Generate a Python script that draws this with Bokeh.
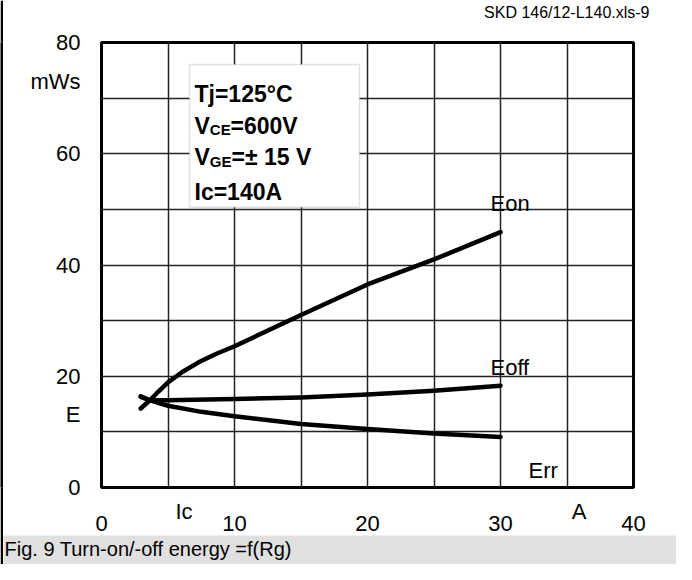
from bokeh.plotting import figure
from bokeh.models import Range1d, FixedTicker, Label, BoxAnnotation, LinearAxis, Title
from bokeh.layouts import row
from bokeh.embed import file_html
from bokeh.resources import INLINE

# ---------------- data ----------------
eon_rg = [2.95, 3.6, 4.3, 5.0, 6.1, 7.3, 8.6, 10.0, 15.0, 20.0, 25.0, 30.0]
eon_e = [14.2, 15.6, 17.3, 18.9, 20.8, 22.5, 24.0, 25.4, 31.0, 36.5, 41.0, 45.9]
eoff_rg = [2.95, 3.6, 5.0, 10.0, 15.0, 20.0, 25.0, 30.0]
eoff_e = [16.3, 15.7, 15.7, 15.9, 16.2, 16.7, 17.4, 18.3]
err_rg = [2.95, 3.6, 5.0, 7.5, 10.0, 15.0, 20.0, 25.0, 30.0]
err_e = [16.4, 15.7, 14.7, 13.6, 12.8, 11.4, 10.5, 9.7, 9.1]

x_ticks = [0, 10, 20, 30, 40]
x_tick_labels = ["0", "10", "20", "30", "40"]
x_minor = [5, 15, 25, 35]
y_ticks = [0, 20, 40, 60, 80]
y_tick_labels = ["0", "20", "40", "60", "80"]
y_minor = [10, 30, 50, 70]

curve_names = ["Eon", "Eoff", "Err"]
cond_lines = ["Tj=125°C", "=600V", "=± 15 V", "Ic=140A"]
sub_labels = ["CE", "GE"]
file_tag = "SKD 146/12-L140.xls-9"
y_name_labels = {72.9: "mWs", 13.1: "E"}      # names shown beside the y scale
x_name_labels = {6.2: "Ic", 35.9: "A"}        # names shown under the x scale
caption = "Fig. 9 Turn-on/-off energy =f(Rg)"

FONT_NAME = "Liberation Sans"

# page-pixel -> data helpers (frame on page: x 109..641, y 50..496)
FL, FR, FT, FB = 109.0, 641.0, 50.0, 496.0
def dx(px):
    return (px - FL) * 40.0 / (FR - FL)
def dy(py):
    return (FB - py) * 80.0 / (FB - FT)

W_MAIN, H_MAIN = 673, 564
p = figure(width=W_MAIN, height=H_MAIN, output_backend="svg", toolbar_location=None,
           title=None,
           x_range=Range1d(0, 40), y_range=Range1d(0, 80),
           min_border_left=98, min_border_right=43, min_border_top=42, min_border_bottom=76)
p.background_fill_color = "white"
p.border_fill_color = "white"
p.outline_line_color = "black"
p.outline_line_width = 3

def style_axis(ax, standoff):
    ax.axis_line_color = None
    ax.major_tick_line_color = None
    ax.minor_tick_line_color = None
    ax.major_label_text_font = FONT_NAME
    ax.major_label_text_font_size = "22px"
    ax.major_label_text_color = "black"
    ax.major_label_standoff = standoff

# y axis: numbers plus the unit / symbol names
yax = p.yaxis[0]
yax.ticker = FixedTicker(ticks=y_ticks + list(y_name_labels.keys()))
yov = {t: s for t, s in zip(y_ticks, y_tick_labels)}
yov.update(y_name_labels)
yax.major_label_overrides = yov
style_axis(yax, 15)

# x axis nearest the frame: symbol / unit names
xax = p.xaxis[0]
xax.ticker = FixedTicker(ticks=list(x_name_labels.keys()))
xax.major_label_overrides = dict(x_name_labels)
style_axis(xax, 5)

# second x axis: the numbers
xnum = LinearAxis(ticker=FixedTicker(ticks=x_ticks),
                  major_label_overrides={t: s for t, s in zip(x_ticks, x_tick_labels)})
style_axis(xnum, -17)
p.add_layout(xnum, "below")

# grid from the scale ticks
p.xgrid.ticker = FixedTicker(ticks=x_ticks, minor_ticks=x_minor)
p.ygrid.ticker = FixedTicker(ticks=y_ticks, minor_ticks=y_minor)
for g in (p.xgrid, p.ygrid):
    g.grid_line_color = "#222222"
    g.grid_line_width = 1.5
    g.minor_grid_line_color = "#222222"
    g.minor_grid_line_width = 1.5

# curves
for xs, ys in ((eon_rg, eon_e), (eoff_rg, eoff_e), (err_rg, err_e)):
    p.line(xs, ys, line_color="black", line_width=4.5, line_join="round", line_cap="round")

# condition box
p.add_layout(BoxAnnotation(left=dx(197), right=dx(367), top=dy(72), bottom=dy(215),
                           fill_color="white", fill_alpha=1.0,
                           line_color="#9a9a9a", line_width=1.5))

def lab(text, px, py, size, bold=False, align="left"):
    p.add_layout(Label(x=dx(px), y=dy(py), text=text, text_font=FONT_NAME,
                       text_font_size=f"{size}px", text_color="black",
                       text_font_style="bold" if bold else "normal",
                       text_align=align, text_baseline="alphabetic"))

lab(cond_lines[0], 202, 101.7, 23, True)
lab("V", 202, 133.3, 23, True)
lab(sub_labels[0], 217.3, 137.5, 15, True)
lab(cond_lines[1], 238, 133.3, 23, True)
lab("V", 202, 165, 23, True)
lab(sub_labels[1], 217.3, 169.5, 15, True)
lab(cond_lines[2], 239, 165, 23, True)
lab(cond_lines[3], 202, 200, 23, True)

lab(curve_names[0], 498, 211, 22)
lab(curve_names[1], 498, 376, 22)
lab(curve_names[2], 536, 479, 22)

# file tag, top right (padding below lifts it to the top of the margin)
tag_title = Title(text=file_tag, align="right", vertical_align="top", offset=-16, standoff=0,
                  padding={"left": 0, "right": 0, "top": 0, "bottom": 20},
                  text_font=FONT_NAME, text_font_size="16px", text_font_style="normal",
                  text_color="black")
p.add_layout(tag_title, "above")

# caption bar at the bottom
cap_title = Title(text=caption, align="left", offset=-98, standoff=0,
                  text_font=FONT_NAME, text_font_size="20px", text_font_style="normal",
                  text_color="black",
                  background_fill_color="#e0e0e0", background_fill_alpha=1.0,
                  padding={"left": 1, "right": 500, "top": 2, "bottom": 5})
p.add_layout(cap_title, "below")

# thick black rule along the left edge
left_strip = figure(width=3, height=H_MAIN, output_backend="svg", toolbar_location=None,
                    x_axis_type=None, y_axis_type=None,
                    min_border=0, min_border_left=0, min_border_right=0,
                    min_border_top=0, min_border_bottom=0)
left_strip.background_fill_color = "black"
left_strip.border_fill_color = "black"
left_strip.outline_line_color = None
left_strip.grid.visible = False

layout = row(left_strip, p, spacing=0)

open("out.html", "w").write(file_html(layout, INLINE))
